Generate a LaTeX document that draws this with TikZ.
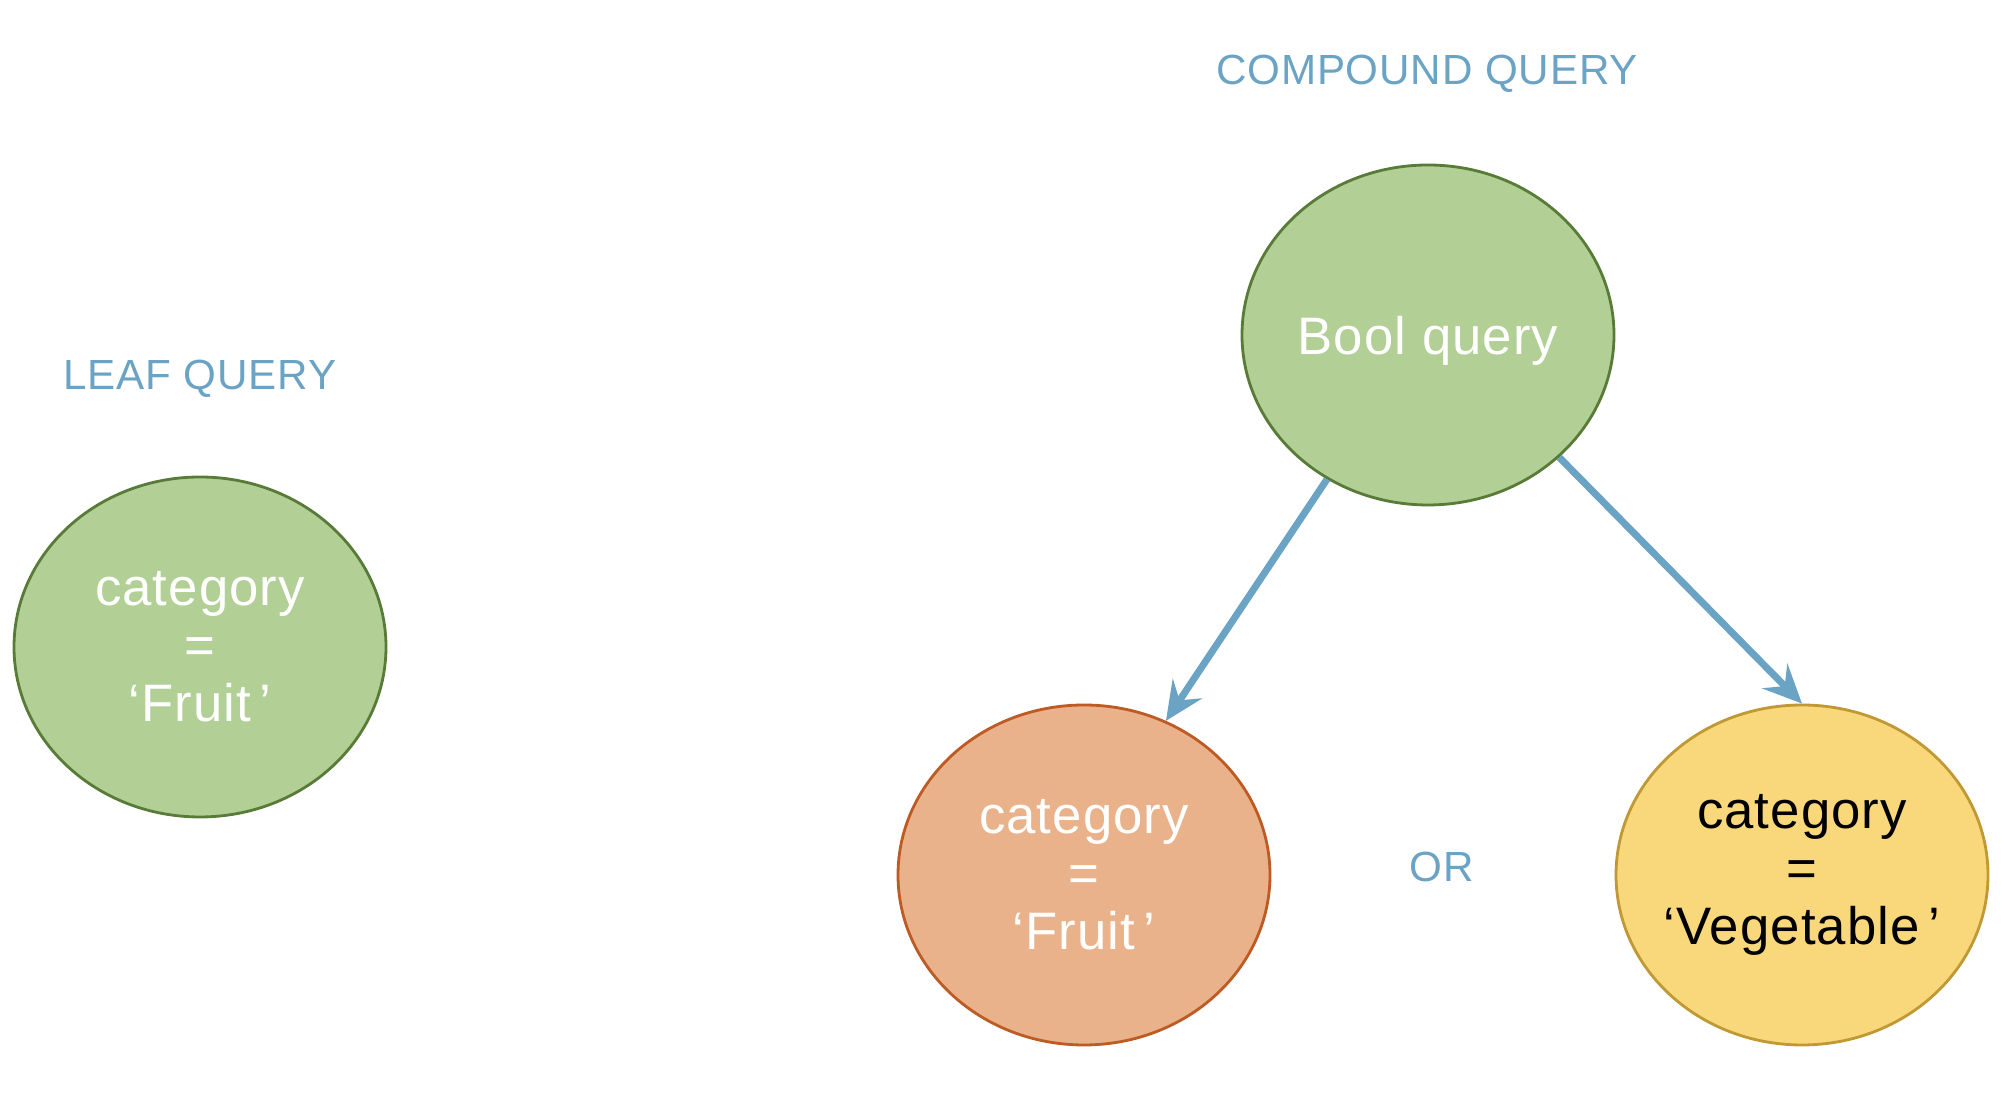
\documentclass[tikz,border=0pt]{standalone}
\usepackage{fontspec}
\setmainfont{Liberation Sans}[LetterSpace=2]
\usepackage{xcolor}
\usepackage{tikz}
\usetikzlibrary{
    positioning,
    arrows.meta,
    shapes.geometric
}
\definecolor{queryBlue}{RGB}{107, 163, 197}
\definecolor{leafGreen}{RGB}{178, 207, 149}
\definecolor{leafGreenDark}{RGB}{88, 124, 56}
\definecolor{fruitOrange}{RGB}{234, 178, 138}
\definecolor{fruitOrangeDark}{RGB}{190, 90, 36}
\definecolor{vegYellow}{RGB}{248, 216, 122}
\definecolor{vegYellowDark}{RGB}{192, 152, 52}

\begin{document}
\begin{tikzpicture}[scale=1.0, >={Stealth[length=11pt, width=10pt, inset=4pt]},
    bubble/.style={ellipse, line width=0.8pt, minimum width=3.72cm,
        minimum height=3.40cm, inner sep=-4mm, align=center,
        font=\fontsize{15}{16.5}\selectfont},
    caption/.style={text=queryBlue, font=\fontsize{12}{14}\selectfont}]
        \useasboundingbox (0, 0) rectangle (20.06, 11.12);

        % Leaf query
        \node[caption] (leaflabel) at (2.00, 7.33) {LEAF QUERY};
        \node[bubble, draw=leafGreenDark, fill=leafGreen, text=white] (leaf) at (2.00, 4.65)
            {category\\=\\‘Fruit\,’};

        % Compound query
        \node[caption] (compoundlabel) at (14.27, 10.38) {COMPOUND QUERY};
        \node[bubble, draw=leafGreenDark, fill=leafGreen, text=white, text depth=0pt] (bool) at (14.28, 7.77)
            {Bool query};
        \node[bubble, draw=fruitOrangeDark, fill=fruitOrange, text=white] (fruit) at (10.84, 2.37)
            {category\\=\\‘Fruit\,’};
        \node[bubble, draw=vegYellowDark, fill=vegYellow, text=black] (veg) at (18.02, 2.37)
            {category\\=\\‘Vegetable\,’};
        \node[caption] (orlabel) at (14.42, 2.45) {OR};

        % Arrows
        \draw[->, line width=2pt, queryBlue] (bool.235.9) -- (fruit.62.7);
        \draw[->, line width=2pt, queryBlue] (bool.317.7) -- (veg.north);
    \end{tikzpicture}
\end{document}
